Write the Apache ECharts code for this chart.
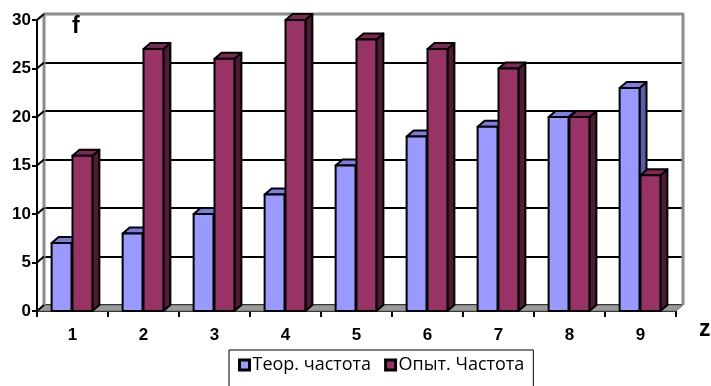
<!DOCTYPE html>
<html>
<head>
<meta charset="utf-8">
<script src="https://cdn.jsdelivr.net/npm/echarts@6/dist/echarts.min.js"></script>
<style>
  html, body { margin: 0; padding: 0; background: #fff; }
  #chart { width: 711px; height: 386px; }
</style>
</head>
<body>
<div id="chart"></div>
<script>
// Categories along z and the two frequency series
const categories = ['1', '2', '3', '4', '5', '6', '7', '8', '9'];
const theoretical = [7, 8, 10, 12, 15, 18, 19, 20, 23];
const observed = [16, 27, 26, 30, 28, 27, 25, 20, 14];
const yTicks = [0, 5, 10, 15, 20, 25, 30];
const seriesNames = ['Теор. частота', 'Опыт. Частота'];

// Plot frame (front plane) and depth offset of the 3D walls
const L = 37, T = 20, R = 676, B = 311;
const DX = 7, DY = 6;
const W = 711, H = 386;
const BAR_RATIO = 0.28;
const BOLD_FONT = 'Liberation Sans';

const palette = [
  { face: '#9999ff', top: '#7d7de0', side: '#5b5ba6' },
  { face: '#993366', top: '#7d2952', side: '#4e1a34' }
];

function barRenderer(s) {
  const c = palette[s];
  return function (params, api) {
    const idx = api.value(0);
    const v = api.value(1);
    const p = api.coord([idx, v]);
    const base = api.coord([idx, 0]);
    const band = api.size([1, 0])[0];
    const w = band * BAR_RATIO;
    const x0 = p[0] - w - 1 + s * (w + 1);
    const x1 = x0 + w;
    const yt = p[1], yb = base[1];
    const st = { stroke: '#000', lineWidth: 2, lineJoin: 'round' };
    return {
      type: 'group',
      children: [
        { type: 'polygon', shape: { points: [[x1, yb], [x1 + DX, yb - DY], [x1 + DX, yt - DY], [x1, yt]] },
          style: Object.assign({ fill: c.side }, st) },
        { type: 'polygon', shape: { points: [[x0, yt], [x0 + DX, yt - DY], [x1 + DX, yt - DY], [x1, yt]] },
          style: Object.assign({ fill: c.top }, st) },
        { type: 'rect', shape: { x: x0, y: yt, width: w, height: yb - yt },
          style: Object.assign({ fill: c.face }, st) }
      ]
    };
  };
}

const chart = echarts.init(document.getElementById('chart'), null, { renderer: 'canvas' });

const option = {
  animation: false,
  backgroundColor: '#fff',
  grid: [
    { left: L, top: T, right: W - R, bottom: H - B },
    { left: L + DX, top: T - DY, right: W - R - DX, bottom: H - B + DY }
  ],
  xAxis: [
    {
      type: 'category', gridIndex: 0, data: categories, boundaryGap: true,
      axisLine: { lineStyle: { color: '#000', width: 2 } },
      axisTick: { show: true, length: 6, lineStyle: { color: '#000', width: 2 } },
      axisLabel: { color: '#000', fontFamily: BOLD_FONT, fontWeight: 'bold', fontSize: 17, margin: 16 },
      splitLine: { show: false }
    },
    { type: 'category', gridIndex: 1, data: categories, show: false }
  ],
  yAxis: [
    {
      type: 'value', gridIndex: 0, min: 0, max: 30, interval: 5,
      axisLine: { show: true, lineStyle: { color: '#000', width: 2 } },
      axisTick: { show: true, length: 5, lineStyle: { color: '#000', width: 2 } },
      axisLabel: { color: '#000', fontFamily: BOLD_FONT, fontWeight: 'bold', fontSize: 17, margin: 6 },
      splitLine: { show: false }
    },
    {
      type: 'value', gridIndex: 1, min: 0, max: 30, interval: 5,
      axisLine: { show: false }, axisTick: { show: false }, axisLabel: { show: false },
      splitLine: { show: true, lineStyle: { color: '#000', width: 2 } }
    }
  ],
  legend: {
    data: seriesNames.map((n, i) => ({ name: n, itemStyle: { color: palette[i].face, borderColor: '#000', borderWidth: 3 } })),
    left: 229, top: 350,
    icon: 'rect', itemWidth: 10, itemHeight: 10, itemGap: 13,
    padding: [6, 9, 30, 9],
    borderColor: '#000', borderWidth: 1,
    itemStyle: { borderColor: '#000', borderWidth: 3 },
    textStyle: { color: '#000', fontFamily: 'Open Sans', fontSize: 18, padding: [0, 0, 0, -2] }
  },
  series: [theoretical, observed].map((vals, s) => ({
    type: 'custom',
    name: seriesNames[s],
    xAxisIndex: 0, yAxisIndex: 0,
    itemStyle: { color: palette[s].face, borderColor: '#000', borderWidth: 3 },
    renderItem: barRenderer(s),
    encode: { x: 0, y: 1 },
    data: vals.map((v, i) => [i, v]),
    z: 3 + s
  }))
};
chart.setOption(option);

// Walls, floor and the little connectors between axis ticks and back-wall gridlines
const gray = '#8c8c8c';
const frame = [
  { type: 'polygon', z: 1, shape: { points: [[L, B], [R, B], [R + DX, B - DY], [L + DX, B - DY]] },
    style: { fill: '#9a9a9a', stroke: '#6e6e6e', lineWidth: 1 } },
  { type: 'polyline', z: 1, shape: { points: [[L + DX, B - DY], [L + DX, T - DY], [R + DX, T - DY], [R + DX, B - DY]] },
    style: { stroke: gray, lineWidth: 3, fill: null, lineJoin: 'round' } },
  { type: 'line', z: 1, shape: { x1: L, y1: T, x2: L + DX, y2: T - DY }, style: { stroke: gray, lineWidth: 2 } }
];
yTicks.forEach(v => {
  const y = chart.convertToPixel({ yAxisIndex: 0 }, v);
  frame.push({ type: 'line', z: 2, shape: { x1: L, y1: y, x2: L + DX, y2: y - DY }, style: { stroke: '#000', lineWidth: 2 } });
});
frame.push(
  { type: 'text', z: 5, left: 72, top: 15, style: { text: 'f', fill: '#000', font: 'bold 23px ' + BOLD_FONT } },
  { type: 'text', z: 5, left: 699, top: 318, style: { text: 'z', fill: '#000', font: 'bold 23px ' + BOLD_FONT } }
);
chart.setOption({ graphic: frame });
</script>
</body>
</html>
